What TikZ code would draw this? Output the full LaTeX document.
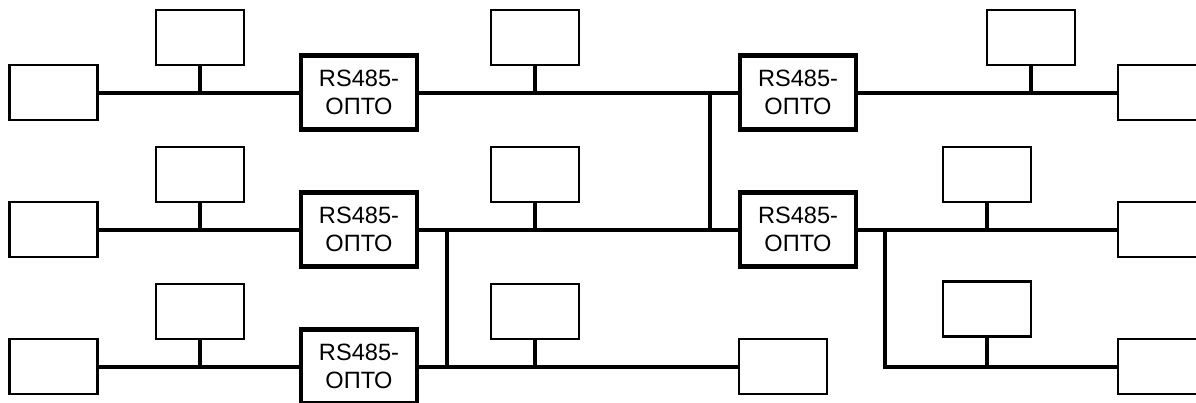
\documentclass[tikz,border=0pt]{standalone}
\usepackage{fontspec}
\setmainfont{Liberation Sans}
\begin{document}
\begin{tikzpicture}[x=1pt,y=-1pt,
  dev/.style={draw, line width=2.2pt, minimum width=88pt, minimum height=55pt, inner sep=0pt, outer sep=0pt},
  opto/.style={draw, line width=4.2pt, minimum width=116pt, minimum height=74pt, inner sep=0pt, outer sep=0pt,
    align=center, font=\fontsize{23.6}{28}\selectfont},
  bus/.style={line width=4pt}]
\useasboundingbox (0,0) rectangle (1196,402);
\clip (0,0) rectangle (1196,402);
% row 1
\node[dev] (L1) at (53.5,92.5) {};
\node[dev] (U1a) at (200,37.5) {};
\node[dev] (U1b) at (535,37.5) {};
\node[dev] (U1c) at (1031,37.5) {};
\node[dev] (R1) at (1162,92.5) {};
\node[opto] (O1a) at (359,92.5) {RS485-\\ОПТО};
\node[opto] (O1b) at (798,92.5) {RS485-\\ОПТО};
% row 2
\node[dev] (L2) at (53.5,229.5) {};
\node[dev] (U2a) at (200,174.5) {};
\node[dev] (U2b) at (535,174.5) {};
\node[dev] (U2c) at (987,174.5) {};
\node[dev] (R2) at (1162,229.5) {};
\node[opto] (O2a) at (359,229.5) {RS485-\\ОПТО};
\node[opto] (O2b) at (798,229.5) {RS485-\\ОПТО};
% row 3
\node[dev] (L3) at (53.5,366.5) {};
\node[dev] (U3a) at (200,311.5) {};
\node[dev] (U3b) at (535,311.5) {};
\node[dev] (U3c) at (987,309) {};
\node[dev] (M3) at (783,366.5) {};
\node[dev] (R3) at (1162,366.5) {};
\node[opto] (O3a) at (359,366.5) {RS485-\\ОПТО};
% junctions
\coordinate (j1) at (710,92.5);
\coordinate (j1b) at (710,229.5);
\coordinate (j2) at (447,229.5);
\coordinate (j2b) at (447,366.5);
\coordinate (j3) at (885,229.5);
% buses
\draw[bus] (L1) -- (O1a);
\draw[bus] (O1a) -- (O1b);
\draw[bus] (O1b) -- (R1);
\draw[bus] (L2) -- (O2a);
\draw[bus] (O2a) -- (O2b);
\draw[bus] (O2b) -- (R2);
\draw[bus] (L3) -- (O3a);
\draw[bus] (O3a) -- (M3);
\draw[bus] (j1) -- (j1b);
\draw[bus] (j2) -- (j2b);
\draw[bus] (j3) |- (R3);
% stubs
\draw[bus] (U1a.south) -- (U1a.south |- L1);
\draw[bus] (U1b.south) -- (U1b.south |- L1);
\draw[bus] (U1c.south) -- (U1c.south |- L1);
\draw[bus] (U2a.south) -- (U2a.south |- L2);
\draw[bus] (U2b.south) -- (U2b.south |- L2);
\draw[bus] (U2c.south) -- (U2c.south |- L2);
\draw[bus] (U3a.south) -- (U3a.south |- L3);
\draw[bus] (U3b.south) -- (U3b.south |- L3);
\draw[bus] (U3c.south) -- (U3c.south |- L3);
\end{tikzpicture}
\end{document}
